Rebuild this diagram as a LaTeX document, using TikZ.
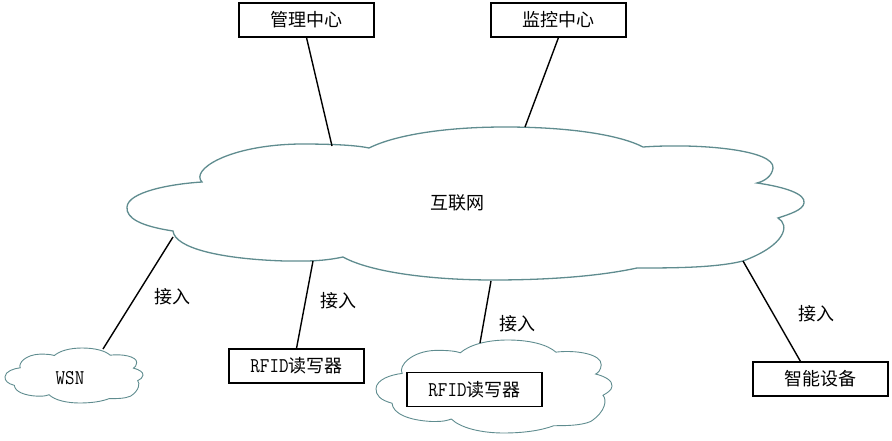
\documentclass[tikz,border=0pt]{standalone}
\usepackage{fontspec}
\newfontfamily\cjk{Noto Sans CJK SC}
\newfontfamily\lat[FakeStretch=0.88]{Latin Modern Mono}
\definecolor{cloudc}{HTML}{5F8C8F}
\newcommand{\cloudpath}{(202,182) .. controls (190,170) and (228,145) .. (300,144)
 .. controls (330,144) and (355,145) .. (369,148)
 .. controls (395,135) and (445,127) .. (505,127)
 .. controls (570,127) and (620,135) .. (643,147)
 .. controls (700,143) and (775,150) .. (773,168)
 .. controls (772,176) and (765,181) .. (757,183)
 .. controls (785,187) and (806,194) .. (804,203)
 .. controls (803,210) and (790,214) .. (778,218)
 .. controls (790,225) and (786,245) .. (743,261)
 .. controls (715,268) and (670,268) .. (637,268)
 .. controls (600,276) and (550,280) .. (493,280)
 .. controls (430,280) and (370,272) .. (343,257)
 .. controls (320,262) and (300,261) .. (285,261)
 .. controls (220,259) and (175,248) .. (173,231)
 .. controls (140,226) and (126,218) .. (127,207)
 .. controls (128,192) and (170,184) .. (202,182) -- cycle}
\newcommand{\latw}[1]{{\lat\fontsize{21}{22}\selectfont #1}}
\begin{document}
\begin{tikzpicture}[x=1pt,y=-1pt,
  bigcloud/.style={draw=cloudc, line width=1.3pt},
  smallcloud/.style={draw=cloudc, line width=0.9pt},
  box/.style={draw, line width=1.1pt, minimum width=135pt, minimum height=34pt, inner sep=0pt, fill=white, font=\cjk\fontsize{18}{20}\selectfont},
  conn/.style={line width=1.4pt},
  lbl/.style={font=\cjk\fontsize{18}{20}\selectfont, inner sep=0pt}]
\useasboundingbox (0,0) rectangle (892,441);
% clouds
\draw[bigcloud] \cloudpath;
\begin{scope}[shift={(-20.888,302.346)}, xscale=0.20384, yscale=0.35948]
  \draw[smallcloud] \cloudpath;
\end{scope}
\begin{scope}[shift={(331.728,262.804)}, xscale=0.34860, yscale=0.60784]
  \draw[smallcloud] \cloudpath;
\end{scope}
% texts in clouds
\node[lbl] (net) at (457,203) {互联网};
\node[lbl] (wsn) at (70,378) {\latw{WSN}};
% boundary points
\coordinate (netA) at (332,146);
\coordinate (netB) at (525,127);
\coordinate (netC) at (173,237);
\coordinate (netD) at (313,261);
\coordinate (netE) at (491,281);
\coordinate (netF) at (743,261);
\coordinate (wsnT) at (103,349);
\coordinate (rcT) at (480,343);
% boxes
\node[box] (mgmt) at (306.5,20) {管理中心};
\node[box] (mon) at (558.5,20) {监控中心};
\node[box] (rfid1) at (296.5,366) {\latw{RFID}读写器};
\node[box] (rfid2) at (474.5,389.5) {\latw{RFID}读写器};
\node[box] (dev) at (820.5,379) {智能设备};
% connectors
\draw[conn] (mgmt.south) -- (netA);
\draw[conn] (mon.south) -- (netB);
\draw[conn] (netC) -- (wsnT);
\draw[conn] (netD) -- (rfid1.north);
\draw[conn] (netE) -- (rcT);
\draw[conn] (netF) -- ([xshift=-20pt]dev.north);
% labels
\node[lbl] (l1) at (172,297) {接入};
\node[lbl] (l2) at (338,301) {接入};
\node[lbl] (l3) at (517,324) {接入};
\node[lbl] (l4) at (816,314) {接入};
\end{tikzpicture}
\end{document}
